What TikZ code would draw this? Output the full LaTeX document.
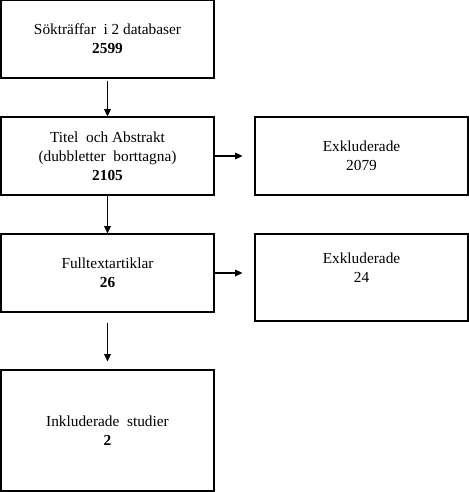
\documentclass[tikz,border=0pt]{standalone}
\usepackage{fontspec}
\setmainfont{Liberation Serif}
\usepackage{tikz}
\usetikzlibrary{
    arrows.meta,
    positioning
}

\begin{document}
\begin{tikzpicture}[
        x=0.75pt, y=-0.75pt,
        >={Triangle[length=5.5pt,width=5pt]},
        box/.style={
            rectangle,
            draw,
            line width=0.8pt,
            minimum width=159.75pt,
            minimum height=58.5pt,
            align=center,
            font=\fontsize{11.5}{14.25}\selectfont
        },
        flow/.style={->, line width=0.8pt}
    ]
        \useasboundingbox (0,0) rectangle (468,492);
        \node[box] (sok) at (107.5,39) {S\"oktr\"affar\ \ i 2 databaser\\\textbf{2599}};
        \node[box] (titel) at (107.5,156) {Titel\ \ och Abstrakt\\(dubbletter\ \ borttagna)\\\textbf{2105}};
        \node[box] (exkla) at (361.5,156) {Exkluderade\\2079};
        \node[box] (full) at (107.5,273) {Fulltextartiklar\\\textbf{26}};
        \node[box, minimum height=65.25pt, text depth=14pt] (exklb) at (361.5,277.5) {Exkluderade\\24};
        \node[box, minimum height=90.75pt] (inkl) at (107.5,430.5) {Inkluderade\ \ studier\\\textbf{2}};
        \draw[flow, shorten <=1.5pt] (sok) -- (titel);
        \draw[flow, shorten >=9pt] (titel) -- (exkla);
        \draw[flow] (titel) -- (full);
        \draw[flow, shorten >=9pt] (full) -- (full -| exklb.west);
        \draw[flow, shorten <=7.5pt, shorten >=6pt] (full) -- (inkl);
    \end{tikzpicture}
\end{document}
